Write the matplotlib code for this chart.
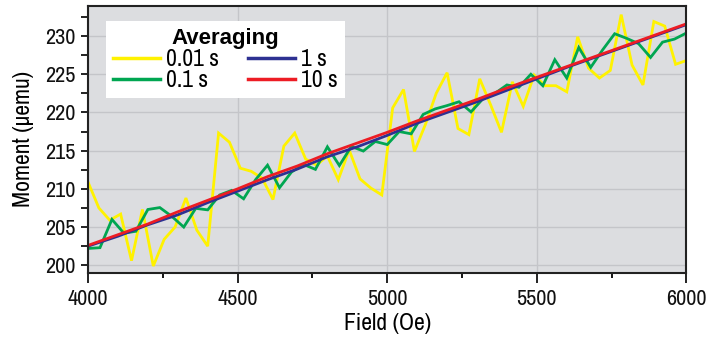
import numpy as np
import matplotlib
matplotlib.use("Agg")
import matplotlib.pyplot as plt
from matplotlib.ticker import MultipleLocator
from matplotlib import font_manager

# pick a condensed sans if one is installed
narrow = None
for f in font_manager.fontManager.ttflist:
    n = f.name
    if ('Narrow' in n or 'Condensed' in n) and f.weight in (400, 'normal', 'regular'):
        if narrow is None or 'Liberation' in n:
            narrow = n
cond_names = sorted({f.name for f in font_manager.fontManager.ttflist
                     if 'Narrow' in f.name or 'Condensed' in f.name})
fam = ([narrow] if narrow else []) + ['Liberation Sans', 'DejaVu Sans']
plt.rcParams['font.family'] = fam
base = 16 if narrow else 14

# ---- data ----
field_001 = np.linspace(4000, 6000, 56)
moment_001 = [210.9, 207.5, 205.9, 206.7, 200.6, 207.3, 199.9, 203.4, 205.0, 208.8,
              204.6, 202.5, 217.3, 216.1, 212.7, 212.3, 211.4, 208.6, 215.6, 217.3,
              213.9, 213.1, 214.3, 211.2, 215.1, 211.3, 210.1, 209.2, 220.6, 223.0,
              214.9, 218.4, 222.5, 225.2, 217.9, 217.1, 224.4, 221.0, 217.4, 224.0,
              220.8, 224.9, 223.5, 223.5, 222.7, 229.9, 225.8, 224.5, 225.5, 232.8,
              226.2, 223.6, 231.9, 231.3, 226.3, 226.8]

field_01 = np.linspace(4000, 6000, 51)
moment_01 = [202.2, 202.3, 206.0, 204.2, 204.45, 207.3, 207.55, 206.4, 205.0, 207.45,
             207.25, 209.2, 209.8, 208.7, 211.2, 213.1, 210.15, 212.2, 213.2, 212.55,
             215.5, 213.05, 215.55, 214.95, 216.2, 215.8, 217.5, 217.2, 219.74, 220.46,
             220.9, 221.4, 220.07, 221.8, 222.5, 223.6, 223.3, 225.0, 223.5, 226.9,
             224.5, 228.5, 225.9, 228.2, 230.3, 229.7, 229.0, 227.2, 229.2, 229.6,
             230.4]

field_slow = np.linspace(4000, 6000, 21)
moment_1 = [202.5, 203.8, 205.3, 206.6, 208.2, 209.7, 211.2, 212.6, 214.2, 215.5,
            217.0, 218.6, 220.0, 221.4, 222.9, 224.4, 225.9, 227.3, 228.7, 230.1,
            231.5]
moment_10 = [202.6, 204.0, 205.4, 207.0, 208.5, 210.0, 211.6, 213.0, 214.6, 216.0,
             217.4, 218.9, 220.3, 221.7, 223.2, 224.6, 226.0, 227.4, 228.8, 230.2,
             231.6]

labels = ["0.01 s", "0.1 s", "1 s", "10 s"]
colors = ["#FFF200", "#00A651", "#2E3192", "#ED1C24"]

xticks = [4000, 4500, 5000, 5500, 6000]
yticks = [200, 205, 210, 215, 220, 225, 230]

# ---- figure ----
fig = plt.figure(figsize=(7.08, 3.43), dpi=100)
ax = fig.add_axes([0.1243, 0.2050, 0.9696 - 0.1243, 0.9825 - 0.2050])
ax.set_facecolor("#DCDDE0")

series = [(field_001, moment_001), (field_01, moment_01),
          (field_slow, moment_1), (field_slow, moment_10)]
handles = []
for (fx, my), lab, col in zip(series, labels, colors):
    h, = ax.plot(fx, my, color=col, lw=2.0, label=lab, solid_joinstyle='miter')
    handles.append(h)

ax.set_xlim(4000, 6000)
ax.set_ylim(199.03, 233.93)
ax.set_xticks(xticks)
ax.set_yticks(yticks)
ax.xaxis.set_minor_locator(MultipleLocator(250))
ax.yaxis.set_minor_locator(MultipleLocator(2.5))
ax.grid(True, which='major', color="#C4C5C9", lw=1.0)
ax.set_axisbelow(True)

ax.tick_params(axis='x', which='major', direction='out', length=7.5, width=1.3,
               labelsize=base, pad=4, colors='#111111')
ax.tick_params(axis='x', which='minor', direction='out', length=3.5, width=1.3)
ax.tick_params(axis='y', which='both', direction='out', length=5, width=1.3,
               labelsize=base, pad=4, colors='#111111')
for s in ax.spines.values():
    s.set_linewidth(1.5)
    s.set_color('#222222')

ax.set_xlabel("Field (Oe)", fontsize=base + 1, labelpad=3)
ax.set_ylabel("Moment (µemu)", fontsize=base + 1, labelpad=8)

leg = ax.legend(handles=handles, labels=labels, ncol=2, title="Averaging",
                loc='upper left', bbox_to_anchor=(106 / 708, 1 - 21 / 343),
                bbox_transform=fig.transFigure, borderaxespad=0,
                fontsize=base + 1, handlelength=2.0, handletextpad=0.25,
                columnspacing=1.2, labelspacing=0.0, borderpad=0.3,
                frameon=True, fancybox=False, framealpha=1.0,
                facecolor='white', edgecolor='none')
leg.get_title().set_fontweight('bold')
leg.get_title().set_fontsize(16)
leg.get_title().set_family(['Liberation Sans', 'DejaVu Sans'])
for line in leg.get_lines():
    line.set_linewidth(2.5)

fig.savefig("out.png", dpi=100)
